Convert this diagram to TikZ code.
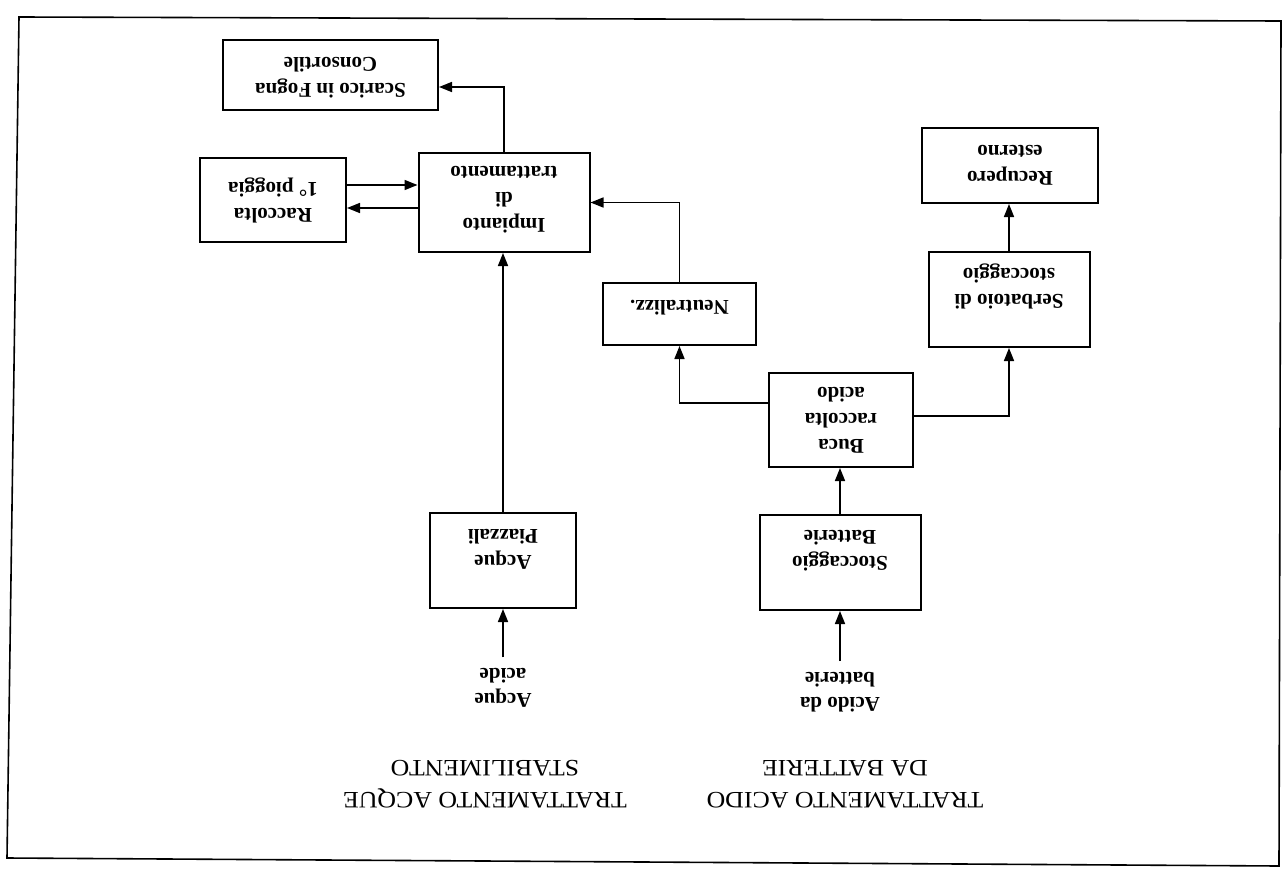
\documentclass[tikz,border=0pt]{standalone}
\usepackage{fontspec}
\setmainfont{Liberation Serif}
\newfontfamily\titlefont[FakeStretch=1.10]{Liberation Serif}
\usetikzlibrary{arrows.meta}
\begin{document}
\begin{tikzpicture}[x=1pt,y=-1pt,
  box/.style={draw, line width=2pt, inner sep=0pt},
  boxtext/.style={rotate=180, align=center, inner sep=0pt,
    font=\fontsize{21}{26}\selectfont\bfseries},
  intext/.style={rotate=180, align=center, inner sep=4pt, outer sep=7pt,
    font=\fontsize{21}{25}\selectfont\bfseries},
  heading/.style={rotate=180, align=center,
    font=\titlefont\fontsize{23.5}{32}\selectfont},
  flow/.style={line width=1.6pt, -{Triangle[length=13pt,width=10pt]}},
  frameline/.style={line width=1.6pt}
]
\useasboundingbox (0,0) rectangle (1283,870);

% outer frame (slightly skewed scan)
\draw[frameline] (19,17) -- (1281,21) -- (1279,866) -- (7,858) -- cycle;

% process boxes
\node[box, minimum width=215pt, minimum height=70pt,
  label={[boxtext, yshift=3pt]center:{Scarico in Fogna\\Consortile}}] (scar) at (330.5,75) {};
\node[box, minimum width=146pt, minimum height=84pt,
  label={[boxtext]center:{Raccolta\\1° pioggia}}] (racc) at (273,200) {};
\node[box, minimum width=171pt, minimum height=99pt,
  label={[boxtext, yshift=-3pt]center:{Impianto\\di\\trattamento}}] (imp) at (504,202.5) {};
\node[box, minimum width=176pt, minimum height=75pt,
  label={[boxtext]center:{Recupero\\esterno}}] (recu) at (1010,165.5) {};
\node[box, minimum width=161pt, minimum height=95pt,
  label={[boxtext, yshift=-13pt]center:{Serbatoio di\\stoccaggio}}] (serb) at (1009,299.5) {};
\node[box, minimum width=153pt, minimum height=62pt,
  label={[boxtext, yshift=-6pt]center:{Neutralizz.}}] (neut) at (679.5,314) {};
\node[box, minimum width=144pt, minimum height=94pt,
  label={[boxtext]center:{Buca\\raccolta\\acido}}] (buca) at (841,420) {};
\node[box, minimum width=161pt, minimum height=95pt,
  label={[boxtext, yshift=-12pt]center:{Stoccaggio\\Batterie}}] (stoc) at (840,562.5) {};
\node[box, minimum width=146pt, minimum height=95pt,
  label={[boxtext, yshift=-11pt]center:{Acque\\Piazzali}}] (acqp) at (503,560.5) {};

% inputs
\node[intext] (acqin) at (503,688) {Acque\\acide};
\node[intext] (batin) at (840,692) {Acido da\\batterie};

% section headings
\node[heading] (hacque) at (485,784) {TRATTAMENTO ACQUE\\STABILIMENTO};
\node[heading] (hacido) at (845,784) {TRATTAMENTO ACIDO\\DA BATTERIE};

% flows
\draw[flow] (acqin) -- (acqin |- acqp.south);
\draw[flow] (batin) -- (batin |- stoc.south);
\draw[flow] (stoc.north) -- (stoc.north |- buca.south);
\draw[flow] ([yshift=17pt]buca.west) -| (neut.south);
\draw[flow] ([yshift=4pt]buca.east) -| (serb.south);
\draw[flow] (serb.north) -- (serb.north |- recu.south);
\draw[flow] (neut.north) |- (imp.east);
\draw[flow] (acqp.north) -- (acqp.north |- imp.south);
\draw[flow] (imp.north) |- ([yshift=-12pt]scar.east);
\draw[flow] ([yshift=15pt]racc.east) -- ([yshift=15pt]racc.east -| imp.west);
\draw[flow] ([yshift=-8pt]racc.east -| imp.west) -- ([yshift=-8pt]racc.east);
\end{tikzpicture}
\end{document}
